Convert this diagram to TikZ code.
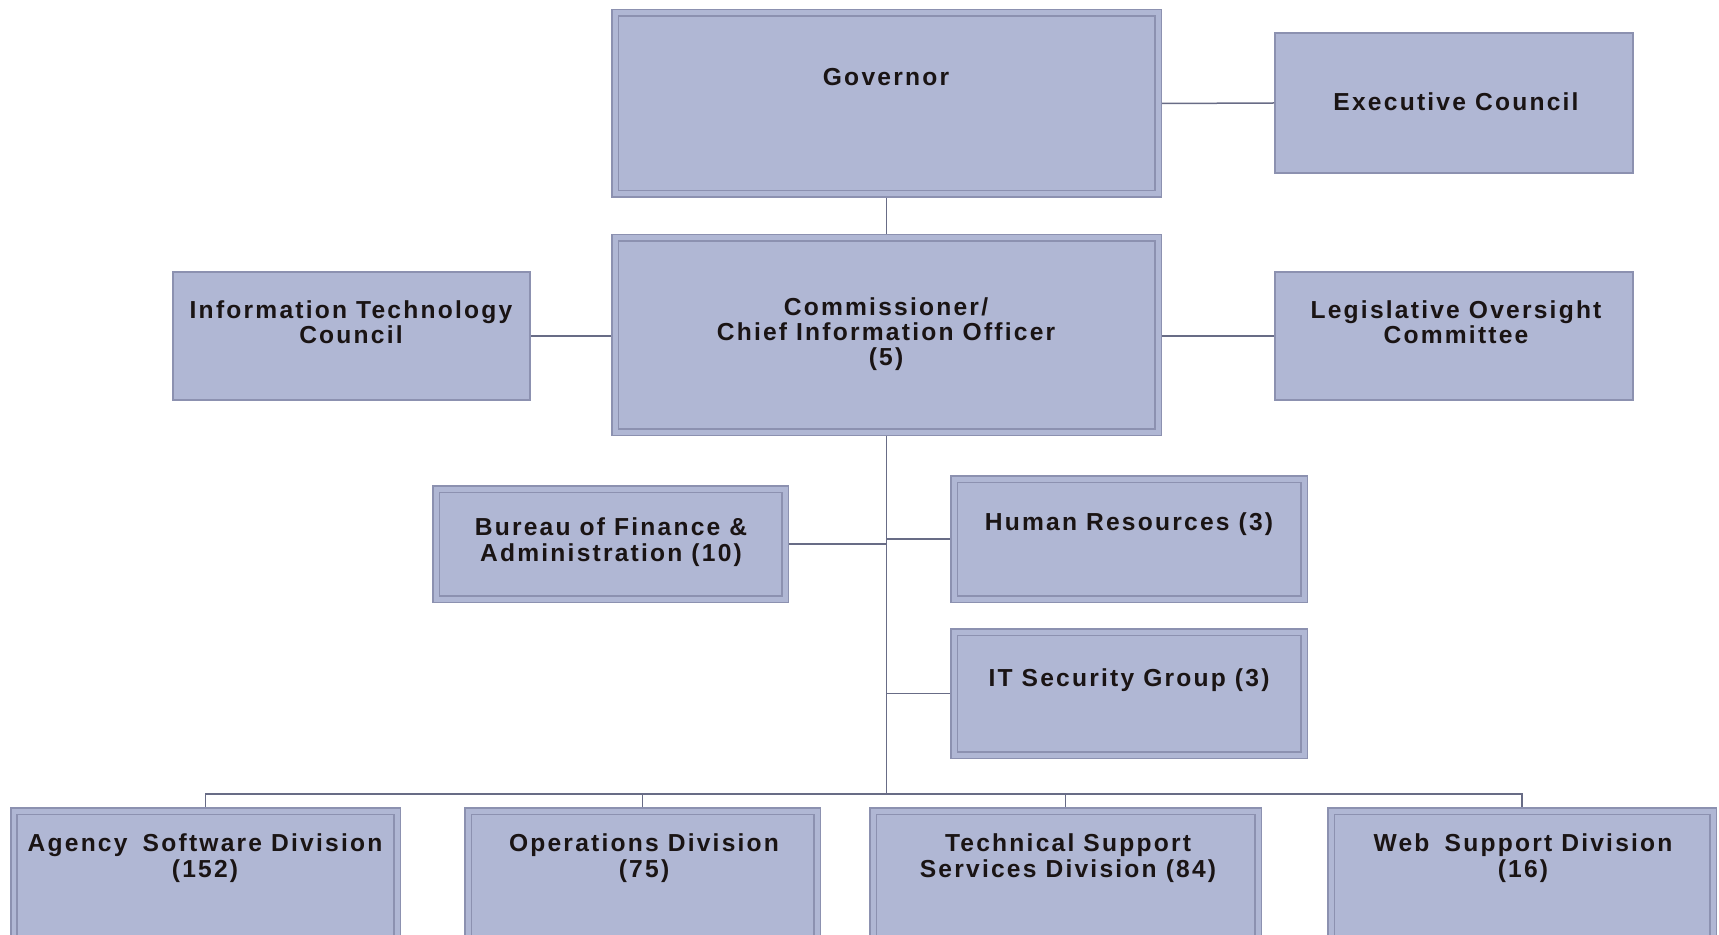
\documentclass[tikz,border=0pt]{standalone}
\usepackage{fontspec}
\setmainfont{Liberation Sans}[LetterSpace=9]
\usetikzlibrary{positioning,calc}

\definecolor{unitfill}{RGB}{176,183,212}
\definecolor{unitline}{RGB}{140,145,176}
\definecolor{linkline}{RGB}{104,108,134}
\definecolor{unittext}{RGB}{26,20,20}

\tikzset{
  unit/.style={draw=unitline, fill=unitfill, line width=0.04cm, inner sep=0pt},
  unitframe/.style={unit, line width=0.03cm, double=unitfill, double distance=0.1cm, outer sep=0.08cm},
  boxsize/.style 2 args={minimum width=#1*0.02cm, minimum height=#2*0.02cm},
  unitlabel/.style={align=center, font=\bfseries\fontsize{14}{14.4}\selectfont, text=unittext, inner sep=0pt},
  link/.style={draw=linkline, line width=0.03cm}
}

\begin{document}
\begin{tikzpicture}[x=0.02cm, y=-0.02cm]
				\useasboundingbox (0,0) rectangle (1719,935);
				\clip (0,0) rectangle (1719,935);
				% boxes
				\node[unitframe, boxsize={543}{181}] (gov) at (886.5,103.5) {};
				\node[unit, boxsize={358}{140}] (exec) at (1454,103) {};
				\node[unit, boxsize={357}{128}] (itc) at (351.5,336) {};
				\node[unitframe, boxsize={543}{194}] (cio) at (886.5,335) {};
				\node[unit, boxsize={358}{128}] (leg) at (1454,336) {};
				\node[unitframe, boxsize={349}{110}] (bfa) at (610.5,544) {};
				\node[unitframe, boxsize={350}{120}] (hr) at (1129,539) {};
				\node[unitframe, boxsize={350}{123}] (itsec) at (1129,693.5) {};
				% divisions run off the bottom edge
				\node[unitframe, boxsize={383}{200}] (asd) at (205.5,911) {};
				\node[unitframe, boxsize={349}{200}] (ops) at (642.5,911) {};
				\node[unitframe, boxsize={385}{200}] (tss) at (1065.5,911) {};
				\node[unitframe, boxsize={382}{200}] (wsd) at (1522,911) {};
				% texts
				\node[unitlabel] (gov-t) at (886,77) {Governor};
				\node[unitlabel] (exec-t) at (1456,102) {Executive Council};
				\node[unitlabel] (itc-t) at (351,322) {Information Technology\\Council};
				\node[unitlabel] (cio-t) at (886,334) {Commissioner/\\Chief Information Officer\\(5)};
				\node[unitlabel] (leg-t) at (1456,322) {Legislative Oversight\\Committee};
				\node[unitlabel] (bfa-t) at (611,542) {Bureau of Finance \&\\Administration (10)};
				\node[unitlabel] (hr-t) at (1129,524) {Human Resources (3)};
				\node[unitlabel] (itsec-t) at (1129,680) {IT Security Group (3)};
				\node[unitlabel] (asd-t) at (205,858) {Agency\kern0.25em{} Software Division\\(152)};
				\node[unitlabel] (ops-t) at (644,858) {Operations Division\\(75)};
				\node[unitlabel] (tss-t) at (1068,858) {Technical Support\\Services Division (84)};
				\node[unitlabel] (wsd-t) at (1523,858) {Web\kern0.25em{} Support Division\\(16)};
				% connectors
				\coordinate (bus) at (886.5,794);
				\draw[link] (gov.east) -- (exec.west);
				\draw[link] (gov.south) -- (cio.north);
				\draw[link] (itc.east) -- (itc.east -| cio.west);
				\draw[link] (leg.west) -- (leg.west -| cio.east);
				\draw[link] (cio.south) -- (bus);
				\draw[link] (bfa.east) -- (bfa.east -| bus);
				\draw[link] (hr.west) -- (hr.west -| bus);
				\draw[link] (itsec.west) -- (itsec.west -| bus);
				\draw[link] (asd.north) -- (asd.north |- bus) -- (wsd.north |- bus) -- (wsd.north);
				\draw[link] (ops.north) -- (ops.north |- bus);
				\draw[link] (tss.north) -- (tss.north |- bus);
\end{tikzpicture}
\end{document}
